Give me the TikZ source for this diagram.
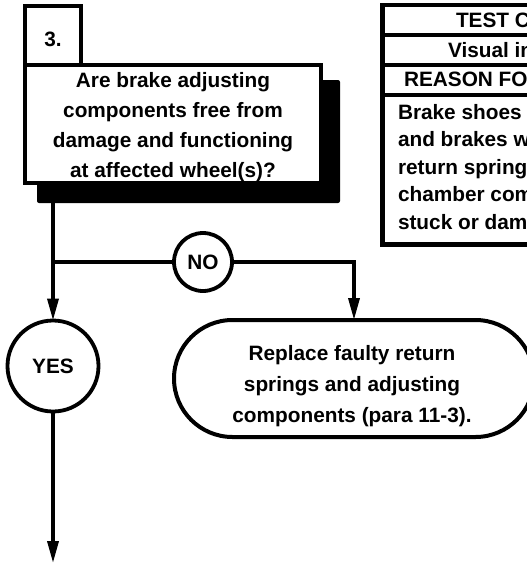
\documentclass[tikz,border=0pt]{standalone}
\usepackage{fontspec}
\setmainfont{Liberation Sans}
\usetikzlibrary{arrows.meta}

\begin{document}
\begin{tikzpicture}[x=1pt,y=-1pt,
  every node/.style={inner sep=0pt, outer sep=0pt},
  bold20/.style={font=\fontsize{20.8}{30}\selectfont\bfseries},
  flow/.style={line width=3.4pt},
  tip/.style={-{Triangle[length=22pt,width=11pt]}},
  frame/.style={draw, line width=4pt, fill=white},
  ring/.style={draw, circle, line width=3.8pt, fill=white, bold20},
  rule/.style={line width=4.5pt},
  cell/.style={bold20, anchor=base west}]

\useasboundingbox (0,0) rectangle (527,563);
\clip (0,0) rectangle (527,563);

% --- test / reason table (runs off to the right) ---
\draw[rule] (600,5) -- (382.5,5) -- (382.5,244.5) -- (600,244.5);
\foreach \y in {35,65,95} \draw[rule] (382.5,\y) -- (600,\y);
\node[cell] (hd1) at (456,27.5) {TEST CO};
\node[cell] (hd2) at (448,57) {Visual ins};
\node[cell] (hd3) at (404,86.5) {REASON FOR};
\node[cell] (rs1) at (398,119) {Brake shoes};
\node[cell] (rs2) at (398,146.5) {and brakes wi};
\node[cell] (rs3) at (398,174) {return springs};
\node[cell] (rs4) at (398,201.5) {chamber comp};
\node[cell] (rs5) at (398,229) {stuck or dama};

% --- question box with drop shadow ---
\fill[rounded corners=2pt] (37,80) rectangle (340,203);
\node[frame, minimum width=56pt, minimum height=59pt] (num) at (53,35.5) {};
\node[bold20] (numtext) at (53,39.5) {3.};
\node[frame, minimum width=296pt, minimum height=118pt] (q) at (173,124) {};
\node[bold20, align=center] (qtext) at (173,127.5)
  {Are brake adjusting\\components free from\\damage and functioning\\at affected wheel(s)?};

% --- answers ---
\node[ring, minimum size=58pt] (no) at (203,262) {NO};
\node[ring, minimum size=91pt] (yes) at (53,366) {YES};

% --- corrective action ---
\node[frame, rounded corners=58.5pt, minimum width=360pt, minimum height=117pt] (fix) at (354,378.5) {};
\node[font=\fontsize{20.8}{31}\selectfont\bfseries, align=center] (fixtext) at (352,386)
  {Replace faulty return\\springs and adjusting\\components (para 11-3).};

% --- connectors ---
\coordinate (qout) at (53,203);
\coordinate (split) at (53,262);
\coordinate (next) at (53,563);
\draw[flow,tip] (qout) -- (yes.north);
\draw[flow] (split) -- (no.west);
\draw[flow,tip] (no.east) -| (fix.north);
\draw[flow,tip] (yes.south) -- (next);
\end{tikzpicture}
\end{document}
